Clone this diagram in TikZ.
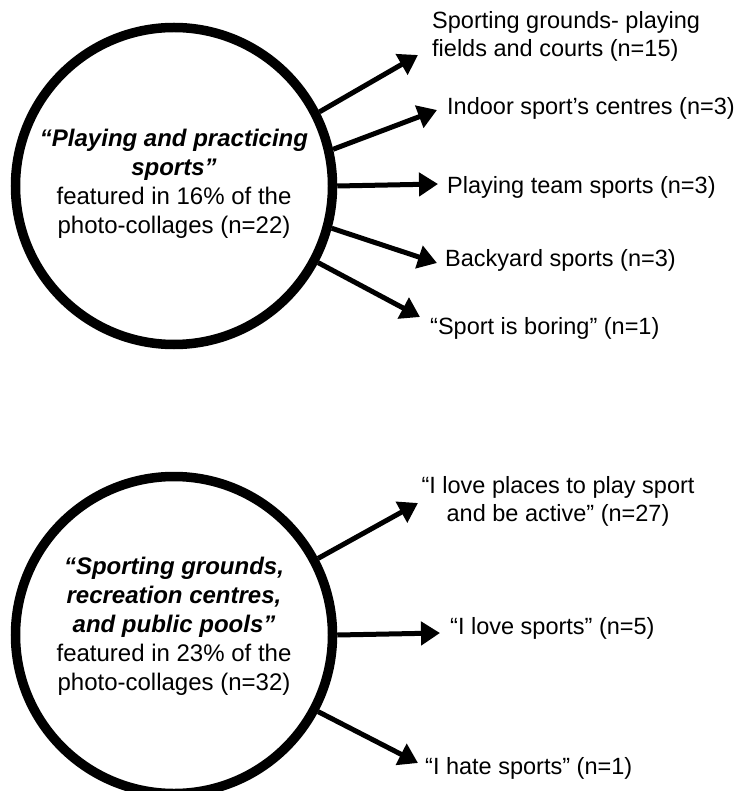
\documentclass[tikz,border=0pt]{standalone}
\usepackage{fontspec}
\setmainfont{Liberation Sans}
\usetikzlibrary{arrows.meta}
\newcommand{\bi}[1]{\textbf{\textit{#1}}}
\begin{document}
\begin{tikzpicture}[x=1pt,y=-1pt,
  theme/.style={circle,draw=black,line width=9.5pt,fill=white,minimum size=317pt,inner sep=0pt},
  themetext/.style={align=center,inner sep=0pt,font=\fontsize{24}{29}\selectfont},
  sub/.style={inner sep=0pt,font=\fontsize{23.5}{28}\selectfont},
  link/.style={line width=5pt,-{Triangle[length=19pt,width=23pt]}}
]
\useasboundingbox (0,0) rectangle (742,791);

% ---- first theme ----
\node[theme] (play) at (174,186) {};
\node[themetext] (playtxt) at (174,184)
  {\bi{“Playing and practicing}\\ \bi{sports”}\\ featured in 16\% of the\\ photo-collages (n=22)};

\node[sub,anchor=west,align=left] (s1) at (432,36) {Sporting grounds- playing\\ fields and courts (n=15)};
\node[sub,anchor=west] (s2) at (447,108) {Indoor sport’s centres (n=3)};
\node[sub,anchor=west] (s3) at (447,187) {Playing team sports (n=3)};
\node[sub,anchor=west] (s4) at (445,260) {Backyard sports (n=3)};
\node[sub,anchor=west] (s5) at (430,328) {“Sport is boring” (n=1)};

\coordinate (t1) at (418,55);
\coordinate (t2) at (437,110);
\coordinate (t3) at (438,184);
\coordinate (t4) at (437,263);
\coordinate (t5) at (420,317);

\draw[link] (play.27.8) -- (t1);
\draw[link] (play.13.9) -- (t2);
\draw[link] (play.0) -- (t3);
\draw[link] (play.-15.6) -- (t4);
\draw[link] (play.-28.1) -- (t5);

% ---- second theme ----
\node[theme] (ground) at (174,635) {};
\node[themetext] (groundtxt) at (174,626)
  {\bi{“Sporting grounds,}\\ \bi{recreation centres,}\\ \bi{and public pools”}\\ featured in 23\% of the\\ photo-collages (n=32)};

\node[sub,align=center] (g1) at (558,501) {“I love places to play sport\\ and be active” (n=27)};
\node[sub,anchor=west] (g2) at (450,628) {“I love sports” (n=5)};
\node[sub,anchor=west] (g3) at (425,768) {“I hate sports” (n=1)};

\coordinate (u1) at (418,503);
\coordinate (u2) at (440,633);
\coordinate (u3) at (418,763);

\draw[link] (ground.28.4) -- (u1);
\draw[link] (ground.0) -- (u2);
\draw[link] (ground.-28.4) -- (u3);
\end{tikzpicture}
\end{document}
